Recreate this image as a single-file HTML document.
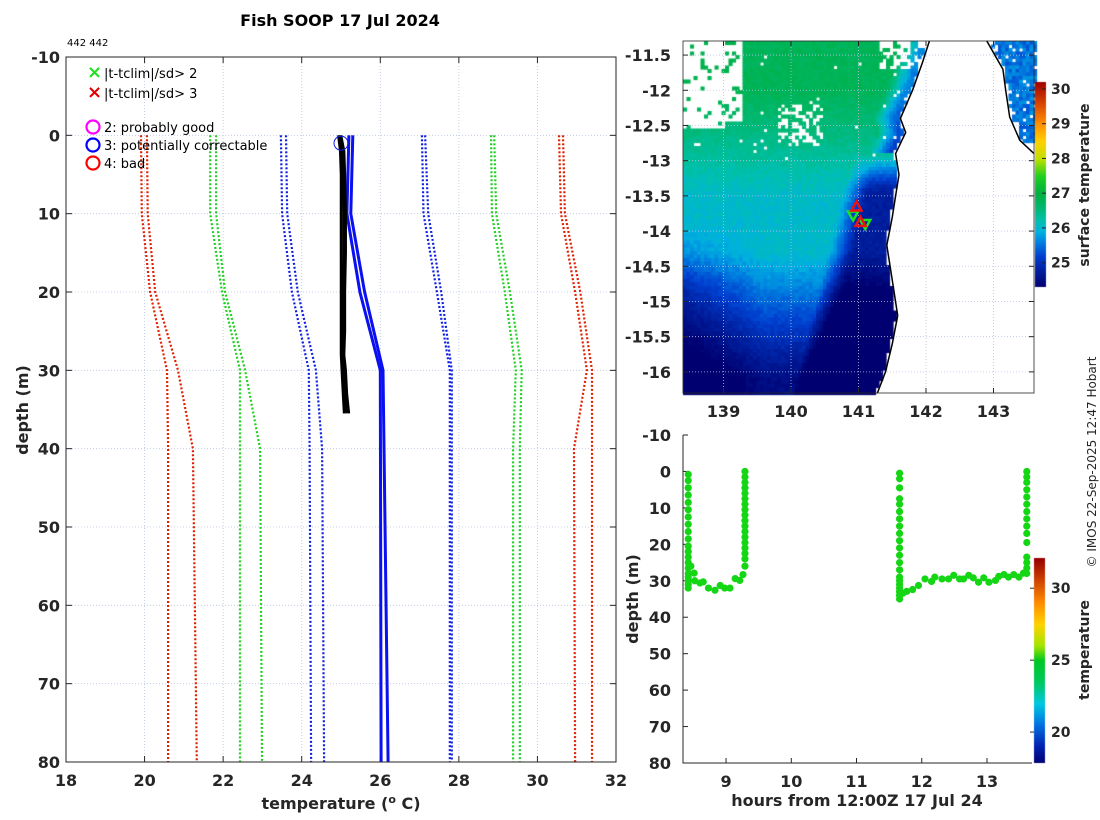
<!DOCTYPE html>
<html><head><meta charset="utf-8">
<style>
html,body{margin:0;padding:0;background:#fff;width:1100px;height:820px;overflow:hidden}
#wrap{position:relative;width:1100px;height:820px;font-family:"Liberation Sans","DejaVu Sans",sans-serif}
canvas{position:absolute;left:0;top:0}
svg{position:absolute;left:0;top:0}
text{font-family:"DejaVu Sans","Liberation Sans",sans-serif}
.tk{font-size:16px;font-weight:bold;fill:#262626}
.lab{font-size:16px;font-weight:bold;fill:#262626}
</style></head>
<body>
<div id="wrap">
<canvas id="mapc" width="1100" height="820"></canvas>
<svg id="s" width="1100" height="820" xmlns="http://www.w3.org/2000/svg">
<text x="340" y="26" text-anchor="middle" style="font-size:16px;font-weight:bold" fill="#000">Fish SOOP 17 Jul 2024</text>
<text x="67" y="46" style="font-size:10px" fill="#000">442 442</text>
<text x="1096" y="462" transform="rotate(-90 1096 462)" text-anchor="middle" style="font-size:12px" fill="#262626">© IMOS 22-Sep-2025 12:47 Hobart</text>
</svg>
</div>
<script>
// ---------- main profile data ----------
const climDepths=[0,10,20,30,40,80];
const redLowA=[19.91,19.93,20.14,20.57,20.6,20.6];
const redLowB=[20.06,20.08,20.27,20.85,21.23,21.33];
const greenLowA=[21.67,21.67,21.97,22.43,22.43,22.43];
const greenLowB=[21.82,21.82,22.05,22.56,22.94,22.99];
const blueLowA=[23.47,23.5,23.75,24.18,24.2,24.24];
const blueLowB=[23.6,23.63,23.9,24.36,24.52,24.57];
const blueHighA=[27.06,27.1,27.44,27.77,27.77,27.77];
const blueHighB=[27.14,27.22,27.55,27.82,27.82,27.82];
const greenHighA=[28.82,28.84,29.17,29.45,29.38,29.38];
const greenHighB=[28.9,28.95,29.3,29.6,29.55,29.55];
const redHighA=[30.55,30.6,30.96,31.26,30.93,30.96];
const redHighB=[30.65,30.7,31.09,31.39,31.39,31.39];
const profDepths=[0,10,20,30,80];
const profTempA=[25.2,25.15,25.48,26.0,26.02];
const profTempB=[25.3,25.25,25.6,26.07,26.2];
const xbtDepths=[0,2,5,10,15,20,25,28,30,33,35.5];
const xbtTemp1=[24.93,24.98,25.0,25.0,25.0,25.0,25.0,25.0,25.02,25.05,25.08];
const xbtTemp2=[25.0,25.08,25.1,25.12,25.12,25.1,25.1,25.08,25.12,25.15,25.2];
const xbtTemp3=[24.96,25.02,25.05,25.06,25.06,25.05,25.05,25.04,25.08,25.1,25.14];
const flagPoint=[25.0,1];
const mainXTicks=[18,20,22,24,26,28,30,32];
const mainYTicks=[-10,0,10,20,30,40,50,60,70,80];
// ---------- map data ----------
const mapXTicks=[139,140,141,142,143];
const mapYTicks=[-11.5,-12,-12.5,-13,-13.5,-14,-14.5,-15,-15.5,-16];
const sstTicks=[25,26,27,28,29,30];
const coastLat=[-11.3,-11.6,-12,-12.4,-12.6,-12.9,-13.2,-13.5,-13.8,-14.2,-14.7,-15.2,-15.6,-16,-16.3];
const coastLon=[142.05,141.95,141.8,141.62,141.7,141.55,141.6,141.55,141.5,141.42,141.5,141.58,141.5,141.4,141.28];
const coast2Lat=[-11.3,-11.7,-12.0,-12.38,-12.71,-12.9];
const coast2Lon=[142.9,143.14,143.18,143.24,143.39,143.6];
const upTriLon=[140.97,141.03];
const upTriLat=[-13.65,-13.87];
const downTriLon=[140.92,141.1];
const downTriLat=[-13.78,-13.9];
// ---------- time series data ----------
const tsTimes=[8.42,8.42,8.42,8.42,8.42,8.42,8.42,8.42,8.42,8.42,8.42,8.42,8.42,8.42,8.42,8.42,8.42,8.42,8.42,8.42,
8.46,8.51,8.52,8.6,8.65,8.73,8.83,8.91,8.98,9.06,9.14,9.21,9.26,
9.29,9.29,9.29,9.29,9.29,9.29,9.29,9.29,9.29,9.29,9.29,9.29,9.29,9.29,9.29,9.29,9.29,9.29,
11.66,11.66,11.66,11.66,11.66,11.66,11.66,11.66,11.66,11.66,11.66,11.66,11.66,11.66,11.66,11.66,11.66,11.66,11.66,11.66,11.66,
11.71,11.77,11.86,11.95,12.05,12.15,12.2,12.31,12.41,12.49,12.58,12.64,12.72,12.79,12.87,12.95,13.03,13.13,13.18,13.26,13.33,13.41,13.49,13.56,
13.61,13.61,13.61,13.61,13.61,13.61,13.61,13.61,13.61,13.61,13.61,13.61,13.61,13.61,13.61];
const tsDepths=[0.8,2.5,4.5,6.5,8.5,10.5,12.5,14.5,16.5,18.5,20.5,22,23.5,25,26.5,28,29,30,31,32,
26,27.9,30,30.6,30.3,32,32.6,31.3,32,32,29.4,29.9,28.3,
0,1.5,3,4.5,6,7.5,9,10.5,12,13.5,15,16.5,18,19.5,21,22.5,24,26,
0.5,2,4.5,7.5,9,11,13,15,17,19,21,23,25,27,29,30,31,32,33,34,35,
33.4,32.9,32.4,31.3,29.5,30.2,29,29.5,29.5,28.5,29.5,29.5,28.5,29.2,30.4,29.2,30.4,29.9,28.8,28.3,29,28.3,29,27.9,
0,1.5,3,5,7,9,11,13,15,17,19.5,23.5,25,26.5,28];
const tsXTicks=[9,10,11,12,13];
const tsYTicks=[-10,0,10,20,30,40,50,60,70,80];
const tempTicks=[20,25,30];

const NS="http://www.w3.org/2000/svg";
const svg=document.getElementById('s');
function mk(tag,attrs,parent){const e=document.createElementNS(NS,tag);for(const k in attrs)e.setAttribute(k,attrs[k]);(parent||svg).appendChild(e);return e;}

// main axes
const M={l:66,r:616,t:57,b:762,x0:18,x1:32,y0:-10,y1:80};
const mx=v=>M.l+(v-M.x0)/(M.x1-M.x0)*(M.r-M.l);
const my=v=>M.t+(v-M.y0)/(M.y1-M.y0)*(M.b-M.t);
const gMain=mk('g',{});


mainXTicks.forEach(v=>{
  const gl=mk('line',{x1:mx(v),x2:mx(v),y1:M.t,y2:M.b,stroke:'#b8c4e0','stroke-width':0.8,'stroke-dasharray':'1 2'},gMain);
  
  mk('line',{x1:mx(v),x2:mx(v),y1:M.b,y2:M.b-6,stroke:'#262626'},gMain);
  mk('line',{x1:mx(v),x2:mx(v),y1:M.t,y2:M.t+6,stroke:'#262626'},gMain);
  const t=mk('text',{x:mx(v),y:M.b+24,'text-anchor':'middle',class:'tk'},gMain);t.textContent=v;
  
});
mainYTicks.forEach(v=>{
  const gl=mk('line',{x1:M.l,x2:M.r,y1:my(v),y2:my(v),stroke:'#b8c4e0','stroke-width':0.8,'stroke-dasharray':'1 2'},gMain);
  
  mk('line',{x1:M.l,x2:M.l+6,y1:my(v),y2:my(v),stroke:'#262626'},gMain);
  mk('line',{x1:M.r,x2:M.r-6,y1:my(v),y2:my(v),stroke:'#262626'},gMain);
  const t=mk('text',{x:M.l-6,y:my(v)+6,'text-anchor':'end',class:'tk'},gMain);t.textContent=v;
  
});
function poly(xs,ys,fx,fy,attrs,name,parent){
  const p=xs.map((x,i)=>fx(x).toFixed(1)+','+fy(ys[i]).toFixed(1)).join(' ');
  const e=mk('polyline',Object.assign({points:p,fill:'none'},attrs),parent);
  
  
  return e;
}
const dot={'stroke-width':2.2,'stroke-dasharray':'2 2'};
[[redLowA,'#e02000','clim-red-low-a'],[redLowB,'#e02000','clim-red-low-b'],
 [greenLowA,'#20d020','clim-green-low-a'],[greenLowB,'#20d020','clim-green-low-b'],
 [blueLowA,'#1020e0','clim-blue-low-a'],[blueLowB,'#1020e0','clim-blue-low-b'],
 [blueHighA,'#1020e0','clim-blue-high-a'],[blueHighB,'#1020e0','clim-blue-high-b'],
 [greenHighA,'#20d020','clim-green-high-a'],[greenHighB,'#20d020','clim-green-high-b'],
 [redHighA,'#e02000','clim-red-high-a'],[redHighB,'#e02000','clim-red-high-b']].forEach(a=>{
  poly(a[0],climDepths,mx,my,Object.assign({stroke:a[1]},dot),a[2],gMain);
});
poly(profTempA,profDepths,mx,my,{stroke:'#0a10f0','stroke-width':3},'profile-blue-a',gMain);
poly(profTempB,profDepths,mx,my,{stroke:'#0a10f0','stroke-width':3},'profile-blue-b',gMain);
[xbtTemp1,xbtTemp2,xbtTemp3].forEach((a,i)=>poly(a,xbtDepths,mx,my,{stroke:'#000','stroke-width':2.5},'xbt-profile-'+(i+1),gMain));
const fc=mk('circle',{cx:mx(flagPoint[0]),cy:my(flagPoint[1]),r:7,fill:'none',stroke:'#1020e0','stroke-width':1},gMain);

mk('rect',{x:M.l,y:M.t,width:M.r-M.l,height:M.b-M.t,fill:'none',stroke:'#262626','stroke-width':1},gMain);
// legend
const lg=mk('g',{});

[['×','#20e020','|t-tclim|/sd> 2',78],['×','#e00000','|t-tclim|/sd> 3',98]].forEach(a=>{
  const t=mk('text',{x:87,y:a[3],style:'font-size:18px;font-weight:bold',fill:a[1]},lg);t.textContent=a[0];
  const u=mk('text',{x:104,y:a[3],style:'font-size:13px',fill:'#000'},lg);u.textContent=a[2];
  
});
[['#ff00ff','2: probably good',132],['#0000ff','3: potentially correctable',150],['#ff0000','4: bad',168]].forEach(a=>{
  mk('circle',{cx:93,cy:a[2]-5,r:6.5,fill:'none',stroke:a[0],'stroke-width':2.2},lg);
  const u=mk('text',{x:104,y:a[2],style:'font-size:13px',fill:'#000'},lg);u.textContent=a[1];
  
});
let t=mk('text',{x:28,y:410,transform:'rotate(-90 28 410)','text-anchor':'middle',class:'lab'});
t.textContent='depth (m)';
t=mk('text',{x:341,y:809,'text-anchor':'middle',class:'lab'});
t.innerHTML='temperature (<tspan dy="-6" style="font-size:11px">o</tspan><tspan dy="6"> C)</tspan>';


// ---------- map ----------
const P={l:683,r:1034,t:41,b:393,x0:138.4,x1:143.6,y0:-11.3,y1:-16.3};
const px=v=>P.l+(v-P.x0)/(P.x1-P.x0)*(P.r-P.l);
const py=v=>P.t+(v-P.y0)/(P.y1-P.y0)*(P.b-P.t);
function interp(xa,ya,v){for(let i=0;i<xa.length-1;i++){const a=xa[i],b=xa[i+1];if((v<=a&&v>=b)||(v>=a&&v<=b)){return ya[i]+(v-a)/(b-a)*(ya[i+1]-ya[i]);}}return ya[ya.length-1];}
function hash(i,j){let h=(i*374761393+j*668265263)|0;h=(h^(h>>>13))*1274126177|0;return ((h^(h>>>16))>>>0)/4294967296;}
const cstops=[[24.3,[0,0,112]],[24.8,[0,32,160]],[25.2,[0,64,208]],[25.6,[0,128,224]],[25.9,[0,176,224]],[26.2,[0,192,176]],[26.6,[0,184,112]],[27.0,[0,176,64]],[27.5,[32,208,32]],[28,[192,224,0]],[28.5,[255,208,0]],[29,[255,144,0]],[29.5,[224,80,0]],[30.2,[160,0,0]]];
const tstops=[[17.85,[0,0,112]],[19,[0,32,176]],[20.5,[0,112,224]],[22,[0,200,224]],[23.5,[0,200,96]],[25,[0,200,32]],[26,[160,230,0]],[27.5,[255,210,0]],[29,[255,140,0]],[30.5,[210,70,0]],[32.1,[150,0,0]]];
function cmap(st,v){if(v<=st[0][0])return st[0][1];for(let i=0;i<st.length-1;i++){if(v<=st[i+1][0]){const f=(v-st[i][0])/(st[i+1][0]-st[i][0]);return st[i][1].map((c,k)=>Math.round(c+f*(st[i+1][1][k]-c)));}}return st[st.length-1][1];}
const cl=(v,a,b)=>Math.max(a,Math.min(b,v));
const ctx=document.getElementById('mapc').getContext('2d');
const cs=3.5;
for(let j=0;j*cs<P.b-P.t;j++){for(let i=0;i*cs<P.r-P.l;i++){
  const x=P.l+i*cs,y=P.t+j*cs;
  const lon=P.x0+(i*cs+cs/2)/(P.r-P.l)*(P.x1-P.x0);
  const lat=P.y0+(j*cs+cs/2)/(P.b-P.t)*(P.y1-P.y0);
  const coast=interp(coastLat,coastLon,lat);
  const c2=interp(coast2Lat,coast2Lon,lat);
  let T=null;
  const r=hash(i,j);
  if(lon<coast-0.03){
    const n=cl((lat+13.5)/1.5,0,1), s=cl((-lat-14.3)/1.8,0,1);
    T=26.05+0.75*n-1.55*s;
    T-=0.7*cl((139.6-lon)/1.2,0,1)*cl((-lat-13.8)/1,0,1);
    const b=141.0+(lat+13.3)*0.27;
    if(lat<-12.9) T-=1.3*cl((lon-b)/0.35+0.5,0,1)*cl((-lat-12.9)/0.5,0,1);
    if(lat>=-12.9) T-=1.2*cl((lon-(coast-0.4))/0.3,0,1);
    T+= (r-0.5)*0.18;
    if(lat>-13.3){
      let p=0.015;
      if(lon<139.3&&lat>-12.45) p=0.85;
      if(lon<139.0&&lat>-12.55) p=0.9;
      if(lon>139.8&&lon<140.5&&lat<-12.2&&lat>-12.8) p=0.5;
      if(lon>141.3&&lat>-11.7) p=0.6;
      if(r<p) T=null;
    }
  } else if(lon>c2+0.03 && lat>-12.75){
    T=25.5+(r-0.5)*0.5; if(r<0.12) T=null;
  }
  if(T!==null){const c=cmap(cstops,T);ctx.fillStyle='rgb('+c.join(',')+')';ctx.fillRect(x,y,cs+0.6,cs+0.6);}
}}
// sst colorbar
for(let y=82;y<287;y++){const v=30.2-(y-82)/(287-82)*(30.2-24.3);const c=cmap(cstops,v);ctx.fillStyle='rgb('+c.join(',')+')';ctx.fillRect(1035,y,11,1);}
// temp colorbar
for(let y=558;y<763;y++){const v=32.1-(y-558)/(763-558)*(32.1-17.85);const c=cmap(tstops,v);ctx.fillStyle='rgb('+c.join(',')+')';ctx.fillRect(1034,y,11,1);}

const gMap=mk('g',{});

mapXTicks.forEach(v=>{
  mk('line',{x1:px(v),x2:px(v),y1:P.t,y2:P.b,stroke:'#b8c4e0','stroke-width':0.8,'stroke-dasharray':'1 2'},gMap);
  mk('line',{x1:px(v),x2:px(v),y1:P.b,y2:P.b-5,stroke:'#262626'},gMap);
  mk('line',{x1:px(v),x2:px(v),y1:P.t,y2:P.t+5,stroke:'#262626'},gMap);
  const e=mk('text',{x:px(v),y:P.b+24,'text-anchor':'middle',class:'tk'},gMap);e.textContent=v;
  
});
mapYTicks.forEach(v=>{
  mk('line',{x1:P.l,x2:P.r,y1:py(v),y2:py(v),stroke:'#b8c4e0','stroke-width':0.8,'stroke-dasharray':'1 2'},gMap);
  mk('line',{x1:P.l,x2:P.l+5,y1:py(v),y2:py(v),stroke:'#262626'},gMap);
  mk('line',{x1:P.r,x2:P.r-5,y1:py(v),y2:py(v),stroke:'#262626'},gMap);
  const e=mk('text',{x:P.l-12,y:py(v)+6,'text-anchor':'end',class:'tk'},gMap);e.textContent=v;
  
});
poly(coastLon,coastLat,px,py,{stroke:'#000','stroke-width':1.5},'coastline',gMap);
poly(coast2Lon,coast2Lat,px,py,{stroke:'#000','stroke-width':1.5},'coastline-east',gMap);
downTriLon.forEach((lo,i)=>{const x=px(lo),y=py(downTriLat[i]);
  const e=mk('polygon',{points:`${x-5},${y-4} ${x+5},${y-4} ${x},${y+5}`,fill:'none',stroke:'#20e020','stroke-width':2.5},gMap);
  });
upTriLon.forEach((lo,i)=>{const x=px(lo),y=py(upTriLat[i]);
  const e=mk('polygon',{points:`${x-5},${y+4} ${x+5},${y+4} ${x},${y-5}`,fill:'none',stroke:'#f01010','stroke-width':2.5},gMap);
  });
mk('rect',{x:P.l,y:P.t,width:P.r-P.l,height:P.b-P.t,fill:'none',stroke:'#262626','stroke-width':0.8},gMap);
const sy=v=>82+(30.2-v)/(30.2-24.3)*(287-82);
sstTicks.forEach(v=>{mk('line',{x1:1042,x2:1046,y1:sy(v),y2:sy(v),stroke:'#262626'},gMap);
  const e=mk('text',{x:1051,y:sy(v)+5,class:'tk',style:'font-size:14px'},gMap);e.textContent=v;
  });
t=mk('text',{x:1089,y:185,transform:'rotate(-90 1089 185)','text-anchor':'middle',class:'lab',style:'font-size:14px'},gMap);
t.textContent='surface temperature';

// ---------- time-depth scatter ----------
const Q={l:683,r:1032,t:435,b:763,x0:8.34,x1:13.69,y0:-10,y1:80};
const qx=v=>Q.l+(v-Q.x0)/(Q.x1-Q.x0)*(Q.r-Q.l);
const qy=v=>Q.t+(v-Q.y0)/(Q.y1-Q.y0)*(Q.b-Q.t);
const gTs=mk('g',{});

tsXTicks.forEach(v=>{mk('line',{x1:qx(v),x2:qx(v),y1:Q.b,y2:Q.b-5,stroke:'#262626'},gTs);
  const e=mk('text',{x:qx(v),y:Q.b+24,'text-anchor':'middle',class:'tk'},gTs);e.textContent=v;
  });
tsYTicks.forEach(v=>{mk('line',{x1:Q.l,x2:Q.l+5,y1:qy(v),y2:qy(v),stroke:'#262626'},gTs);
  const e=mk('text',{x:Q.l-12,y:qy(v)+6,'text-anchor':'end',class:'tk'},gTs);e.textContent=v;
  });
mk('polyline',{points:`${Q.l},${Q.t} ${Q.l},${Q.b} ${Q.r},${Q.b}`,fill:'none',stroke:'#262626'},gTs);
tsTimes.forEach((tv,i)=>{
  const c=mk('circle',{cx:qx(tv),cy:qy(tsDepths[i]),r:3.6,fill:'#14d614'},gTs);
  
  
});
const ty=v=>558+(32.1-v)/(32.1-17.85)*(763-558);
tempTicks.forEach(v=>{mk('line',{x1:1030,x2:1034,y1:ty(v),y2:ty(v),stroke:'#262626'},gTs);
  const e=mk('text',{x:1051,y:ty(v)+5,class:'tk',style:'font-size:14px'},gTs);e.textContent=v;
  });
t=mk('text',{x:1089,y:650,transform:'rotate(-90 1089 650)','text-anchor':'middle',class:'lab',style:'font-size:14px'},gTs);
t.textContent='temperature';
t=mk('text',{x:638,y:599,transform:'rotate(-90 638 599)','text-anchor':'middle',class:'lab'},gTs);
t.textContent='depth (m)';
t=mk('text',{x:857,y:806,'text-anchor':'middle',class:'lab'},gTs);
t.textContent='hours from 12:00Z 17 Jul 24';
</script>
</body></html>
